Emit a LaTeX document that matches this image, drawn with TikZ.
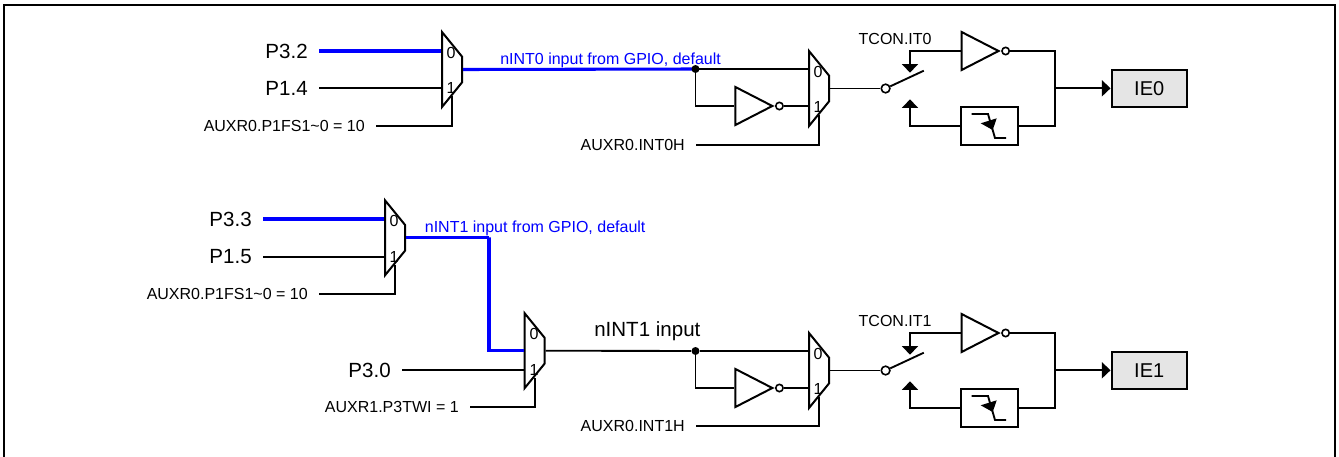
\documentclass[tikz,border=0pt]{standalone}
\usepackage{fontspec}
\setmainfont{Liberation Sans}
\usepackage{xcolor}
\usetikzlibrary{arrows.meta, positioning, shapes.geometric}
\definecolor{gpioblue}{RGB}{0,0,255}
\tikzset{
  wire/.style={line width=1.4pt},
  bluewire/.style={line width=2.3pt, gpioblue},
  muxbox/.style={draw, line width=1.5pt, fill=white, trapezium, shape border rotate=270,
        trapezium stretches=true, trapezium left angle=46.5, trapezium right angle=46.5,
        minimum width=56.25pt, minimum height=15pt, inner sep=1pt},
  notgate/.style={draw, line width=1.5pt, fill=white, isosceles triangle, isosceles triangle stretches=true,
        minimum width=28.5pt, minimum height=27.7pt, inner sep=1pt, anchor=lower side},
  bubble/.style={draw, line width=1.2pt, circle, fill=white, minimum size=5.5pt, inner sep=0pt},
  filterbox/.style={draw, line width=1.5pt, fill=white, minimum width=42.75pt, minimum height=28.5pt, inner sep=0pt},
  flagbox/.style={draw, line width=1.5pt, fill=black!10, minimum width=56.5pt, minimum height=28.2pt,
        inner sep=0pt, font=\fontsize{15}{18}\selectfont},
  portlabel/.style={anchor=east, inner ysep=0pt, inner xsep=8.25pt, font=\fontsize{15.4}{18}\selectfont},
  smalllabel/.style={anchor=east, inner ysep=0pt, inner xsep=8.25pt, font=\fontsize{12}{14}\selectfont},
  plaintext/.style={inner sep=0pt, font=\fontsize{12}{14}\selectfont},
  muxnum/.style={inner sep=0pt, font=\fontsize{12}{14}\selectfont},
  joint/.style={circle, fill=black, minimum size=6pt, inner sep=0pt},
}
\begin{document}
\begin{tikzpicture}[x=0.75pt, y=-0.75pt, >={Triangle[width=12pt,length=6.5pt]}]
  \useasboundingbox (0,0) rectangle (1339,457);
  % outer frame, open at the bottom
  \coordinate (fa) at (4,457);
  \coordinate (fb) at (4,5);
  \coordinate (fc) at (1335,5);
  \coordinate (fd) at (1335,457);
  \draw[line width=1.8pt] (fa) -- (fb) -- (fc) -- (fd);

  % INT0 row
  \node[muxbox] (mux1) at (452,69.5) {};
  \node[muxnum] (m1a) at (451,53) {0};
  \node[muxnum] (m1b) at (451,88) {1};
  \node[portlabel] (p32) at (319,51) {P3.2};
  \node[portlabel] (p14) at (319,88) {P1.4};
  \node[smalllabel] (sel1) at (376,126) {AUXR0.P1FS1\textasciitilde 0 = 10};
  \node[muxbox] (mux2) at (819,88.5) {};
  \node[muxnum] (m2a) at (818,72) {0};
  \node[muxnum] (m2b) at (818,107) {1};
  \coordinate (jt0) at (695.5,69);
  \node[notgate] (inv0) at (734.4,106) {};
  \node[bubble, anchor=west] (bub0) at (inv0.apex) {};
  \node[smalllabel] (sel2) at (696,145) {AUXR0.INT0H};
  \node[plaintext, gpioblue, anchor=west] (txt0) at (500,60.5) {nINT0 input from GPIO, default};
  \node[plaintext, anchor=west] (tcon0) at (858.4,38.5) {TCON.IT0};
  \node[bubble, minimum size=6.5pt] (sw0) at (885.6,88.5) {};
  \coordinate (arm0) at (923.8,70.7);
  \coordinate (upa0) at (910,72.7);
  \coordinate (upb0) at (910,99.3);
  \node[notgate] (inv0t) at (960.6,51) {};
  \node[bubble, anchor=west] (bub0t) at (inv0t.apex) {};
  \node[filterbox] (edge0) at (989,126) {};
  \coordinate (mrg0) at (1055.3,88.3);
  \node[flagbox] (ie0) at (1149.2,88.3) {IE0};
  % wires of the INT0 row
  \draw[bluewire] (p32.east) -- (p32.east -| mux1.west);
  \draw[wire] (p14.east) -- (p14.east -| mux1.west);
  \draw[wire] (sel1.east) -| (mux1.south);
  \draw[bluewire] (mux1.east) -- (jt0);
  \draw[wire] (jt0) -- (jt0 -| mux2.west);
  \draw[wire] (jt0) |- (inv0.lower side);
  \draw[wire] (bub0.east) -- (bub0.east -| mux2.west);
  \draw[wire] (sel2.east) -| (mux2.south);
  \draw[wire] (mux2.east) -- (sw0.west);
  \draw[wire] (sw0) -- (arm0);
  \draw[wire, ->] (inv0t.lower side) -| (upa0);
  \draw[wire, ->] (edge0.west) -| (upb0);
  \draw[wire] (bub0t.east) -| (mrg0) |- (edge0.east);
  \draw[wire, ->] (mrg0) -- (ie0.west);
  \node[joint] (dot0) at (jt0) {};
  % falling edge mark
  \draw[wire] ([shift={(-17.3,-12)}]edge0.center) -- ++(16.3,0) -- ++(7,24) -- ++(11,0);
  \fill ([shift={(-8.3,-2.7)}]edge0.center) -- ([shift={(7.7,-7.7)}]edge0.center) -- ([shift={(3.7,4)}]edge0.center) -- cycle;

  % INT1 row
  \node[muxbox] (mux3) at (395,237.8) {};
  \node[muxnum] (m3a) at (394,221) {0};
  \node[muxnum] (m3b) at (394,257) {1};
  \node[portlabel] (p33) at (263,219) {P3.3};
  \node[portlabel] (p15) at (263,257) {P1.5};
  \node[smalllabel] (sel3) at (319,294.3) {AUXR0.P1FS1\textasciitilde 0 = 10};
  \node[plaintext, gpioblue, anchor=west] (txt1) at (424.6,228) {nINT1 input from GPIO, default};
  \coordinate (bnd1) at (489,237.7);
  \node[muxbox] (mux4) at (534.6,350.7) {};
  \node[muxnum] (m4a) at (534,334) {0};
  \node[muxnum] (m4b) at (534,370) {1};
  \node[portlabel] (p30) at (402,370) {P3.0};
  \node[smalllabel] (sel4) at (470,407) {AUXR1.P3TWI = 1};
  \node[plaintext, anchor=west, font=\fontsize{15.4}{18}\selectfont] (txt2) at (594,331.6) {nINT1 input};
  \node[muxbox] (mux5) at (819,370.5) {};
  \node[muxnum] (m5a) at (818,354) {0};
  \node[muxnum] (m5b) at (818,389) {1};
  \node[joint] (dot1) at (695.5,351) {};
  \node[notgate] (inv1) at (734.4,388) {};
  \node[bubble, anchor=west] (bub1) at (inv1.apex) {};
  \node[smalllabel] (sel5) at (696,426) {AUXR0.INT1H};
  \node[plaintext, anchor=west] (tcon1) at (858.4,320.5) {TCON.IT1};
  \node[bubble, minimum size=6.5pt] (sw1) at (885.6,370.5) {};
  \coordinate (arm1) at (923.8,352.7);
  \coordinate (upa1) at (910,354.7);
  \coordinate (upb1) at (910,381.3);
  \node[notgate] (inv1t) at (960.6,333) {};
  \node[bubble, anchor=west] (bub1t) at (inv1t.apex) {};
  \node[filterbox] (edge1) at (989,408) {};
  \coordinate (mrg1) at (1055.3,370.3);
  \node[flagbox] (ie1) at (1149.2,370.3) {IE1};
  % wires of the INT1 row
  \draw[bluewire] (p33.east) -- (p33.east -| mux3.west);
  \draw[wire] (p15.east) -- (p15.east -| mux3.west);
  \draw[wire] (sel3.east) -| (mux3.south);
  \draw[bluewire, line join=miter] (mux3.east) -| (bnd1) |- (mux4.west);
  \draw[wire] (p30.east) -- (p30.east -| mux4.west);
  \draw[wire] (sel4.east) -| (mux4.south);
  \draw[wire] (mux4.east) -- (dot1);
  \draw[wire] (dot1) -- (dot1 -| mux5.west);
  \draw[wire] (dot1) |- (inv1.lower side);
  \draw[wire] (bub1.east) -- (bub1.east -| mux5.west);
  \draw[wire] (sel5.east) -| (mux5.south);
  \draw[wire] (mux5.east) -- (sw1.west);
  \draw[wire] (sw1) -- (arm1);
  \draw[wire, ->] (inv1t.lower side) -| (upa1);
  \draw[wire, ->] (edge1.west) -| (upb1);
  \draw[wire] (bub1t.east) -| (mrg1) |- (edge1.east);
  \draw[wire, ->] (mrg1) -- (ie1.west);
  % falling edge mark
  \draw[wire] ([shift={(-17.3,-12)}]edge1.center) -- ++(16.3,0) -- ++(7,24) -- ++(11,0);
  \fill ([shift={(-8.3,-2.7)}]edge1.center) -- ([shift={(7.7,-7.7)}]edge1.center) -- ([shift={(3.7,4)}]edge1.center) -- cycle;
\end{tikzpicture}
\end{document}
